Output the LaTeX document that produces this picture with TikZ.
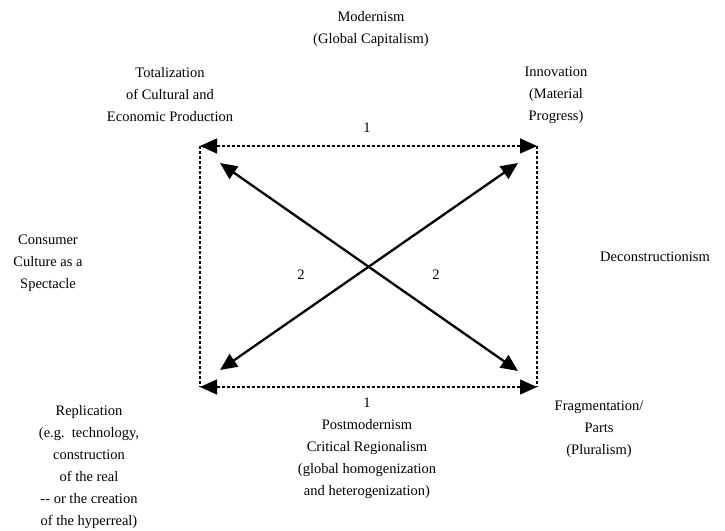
\documentclass[tikz,border=0pt]{standalone}
\usepackage{fontspec}
\setmainfont{Liberation Serif}
\usetikzlibrary{arrows.meta}
\begin{document}
\begin{tikzpicture}[x=1pt,y=-1pt,
  lbl/.style={align=center,font=\fontsize{14.5}{22}\selectfont,inner sep=0pt},
  dsh/.style={line width=1.4pt,dash pattern=on 3pt off 2pt},
  tip/.style={{Triangle[length=17pt,width=15pt]}-{Triangle[length=17pt,width=15pt]}},
  diag/.style={line width=2.3pt}]
\useasboundingbox (0,0) rectangle (725,530);
\coordinate (TL) at (200,146);
\coordinate (TR) at (537,146);
\coordinate (BL) at (200,387);
\coordinate (BR) at (537,387);
\coordinate (d1a) at (220,163);
\coordinate (d1b) at (518,371);
\coordinate (d2a) at (220,370);
\coordinate (d2b) at (518,163);
\draw[dsh] (TL) -- (BL);
\draw[dsh] (TR) -- (BR);
\draw[dsh,tip] (TL) -- (TR);
\draw[dsh,tip] (BL) -- (BR);
\draw[diag,tip] (d1a) -- (d1b);
\draw[diag,tip] (d2a) -- (d2b);
\node[lbl] (mod) at (371,29) {Modernism\\(Global Capitalism)};
\node[lbl] (tot) at (170,95) {Totalization\\of Cultural and\\Economic Production};
\node[lbl] (inn) at (556,95) {Innovation\\(Material\\Progress)};
\node[lbl] (one1) at (367,128) {1};
\node[lbl] (cons) at (48,263) {Consumer\\Culture as a\\Spectacle};
\node[lbl] (dec) at (655,257) {Deconstructionism};
\node[lbl] (two1) at (301,275) {2};
\node[lbl] (two2) at (436,275) {2};
\node[lbl] (post) at (367,448) {1\\Postmodernism\\Critical Regionalism\\(global homogenization\\and heterogenization)};
\node[lbl] (frag) at (599,429) {Fragmentation/\\Parts\\(Pluralism)};
\node[lbl] (rep) at (89,467) {Replication\\(e.g.~~technology,\\construction\\of the real\\-{}- or the creation\\of the hyperreal)};
\end{tikzpicture}
\end{document}
